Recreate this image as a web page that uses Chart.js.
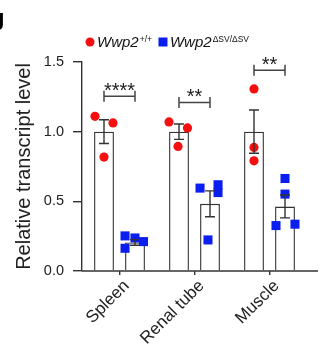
<!DOCTYPE html>
<html>
<head>
<meta charset="utf-8">
<script src="https://cdn.jsdelivr.net/npm/chart.js@4.4.0/dist/chart.umd.min.js"></script>
<style>
  body { margin: 0; background: #fff; }
  canvas { display: block; }
</style>
</head>
<body>
<canvas id="chart" width="327" height="353"></canvas>
<script>
// tissues and genotypes
const tissues = ['Spleen', 'Renal tube', 'Muscle'];
const genotypeBase = ['Wwp2', 'Wwp2'];
const genotypeSup = ['+/+', '\u0394SV/\u0394SV'];

// bar heights (mean) and SEM
const wtMean = [1.0, 1.0, 1.0];
const wtSem = [0.085, 0.055, 0.155];
const koMean = [0.205, 0.482, 0.463];
const koSem = [0.02, 0.093, 0.082];

// individual animals
const wtPoints = [
    [1.11, 1.063, 0.818],
    [1.07, 1.027, 0.894],
    [1.307, 0.887, 0.791]
];
const koPoints = [
    [0.252, 0.237, 0.211, 0.163],
    [0.595, 0.619, 0.563, 0.223],
    [0.664, 0.552, 0.326, 0.336]
];

// significance brackets
const sigLevel = [1.254, 1.21, 1.44];
const sigStars = ['****', '**', '**'];

const yTicks = [0, 0.5, 1.0, 1.5];

// horizontal spread of the dots inside each bar (fraction of a category)
const wtJitter = [[-0.12, 0.12, 0], [-0.133, 0.113, -0.013], [0, 0, 0]];
const koJitter = [[-0.133, 0, 0.113, -0.133], [-0.133, 0.107, 0.107, -0.027], [0, 0, -0.12, 0.133]];

// each bar sits this far (in categories) left/right of the tissue tick
const barShift = 0.2067;

const ink = '#333';
const red = '#f50f0f';
const blue = '#0a1ef0';
const font = '"Liberation Sans", Arial, sans-serif';

const bars = (means, side) => means.map((v, i) => ({ x: i + side * barShift, y: v }));

function dots(points, jitter, side) {
    const out = [];
    points.forEach((vals, i) => {
        vals.forEach((v, j) => {
            out.push({ x: i + side * barShift + jitter[i][j], y: v });
        });
    });
    return out;
}

// error bars, brackets, legend, axis line
const extras = {
    id: 'extras',
    afterDatasetsDraw(chart) {
        const ctx = chart.ctx;
        const y = chart.scales.y;
        const area = chart.chartArea;
        const barsWt = chart.getDatasetMeta(0).data;
        const barsKo = chart.getDatasetMeta(1).data;

        ctx.save();
        ctx.strokeStyle = ink;
        ctx.lineWidth = 1.4;

        // x axis line runs a bit past the last group
        ctx.beginPath();
        ctx.moveTo(area.left, area.bottom);
        ctx.lineTo(area.right + 11, area.bottom);
        ctx.stroke();

        const errBar = (x, mean, sem) => {
            const top = y.getPixelForValue(mean + sem);
            const bot = y.getPixelForValue(mean - sem);
            ctx.beginPath();
            ctx.moveTo(x, top);
            ctx.lineTo(x, bot);
            ctx.moveTo(x - 5, top);
            ctx.lineTo(x + 5, top);
            ctx.moveTo(x - 5, bot);
            ctx.lineTo(x + 5, bot);
            ctx.stroke();
        };
        tissues.forEach((t, i) => {
            errBar(barsWt[i].x, wtMean[i], wtSem[i]);
            errBar(barsKo[i].x, koMean[i], koSem[i]);
        });

        // brackets with stars
        ctx.strokeStyle = '#444';
        ctx.lineWidth = 1.5;
        ctx.fillStyle = '#222';
        ctx.font = '20px ' + font;
        ctx.textAlign = 'center';
        ctx.textBaseline = 'alphabetic';
        tissues.forEach((t, i) => {
            const x1 = barsWt[i].x;
            const x2 = barsKo[i].x;
            const py = y.getPixelForValue(sigLevel[i]);
            ctx.beginPath();
            ctx.moveTo(x1, py);
            ctx.lineTo(x2, py);
            ctx.moveTo(x1, py - 5.5);
            ctx.lineTo(x1, py + 5.5);
            ctx.moveTo(x2, py - 5.5);
            ctx.lineTo(x2, py + 5.5);
            ctx.stroke();
            ctx.fillText(sigStars[i], (x1 + x2) / 2, py + 0.5);
        });

        // legend
        const ly = 42;
        let lx = 90;
        ctx.textAlign = 'left';
        for (let k = 0; k < 2; k++) {
            ctx.fillStyle = k === 0 ? red : blue;
            ctx.beginPath();
            if (k === 0) {
                ctx.arc(lx, ly, 4.5, 0, Math.PI * 2);
            } else {
                ctx.rect(lx - 4.5, ly - 4.5, 9, 9);
            }
            ctx.fill();
            ctx.fillStyle = '#111';
            ctx.font = 'italic 15px ' + font;
            const tx = lx + 7;
            ctx.fillText(genotypeBase[k], tx, ly + 5);
            const w = ctx.measureText(genotypeBase[k]).width;
            ctx.font = '8.5px ' + font;
            ctx.fillText(genotypeSup[k], tx + w + 1, ly - 0.5);
            const ws = ctx.measureText(genotypeSup[k]).width;
            lx = tx + w + 1 + ws + 11;
        }

        // panel letter
        ctx.fillStyle = '#000';
        ctx.font = 'bold 22px ' + font;
        ctx.textAlign = 'right';
        ctx.fillText('g', 4.5, 24.5);
        ctx.restore();
    }
};

new Chart(document.getElementById('chart'), {
    type: 'bar',
    data: {
        datasets: [
            {
                data: bars(wtMean, -1),
                grouped: false,
                backgroundColor: '#fff',
                borderColor: ink,
                borderWidth: 1.4,
                barPercentage: 0.8,
                maxBarThickness: 25,
                order: 1
            },
            {
                data: bars(koMean, 1),
                grouped: false,
                backgroundColor: '#fff',
                borderColor: ink,
                borderWidth: 1.4,
                barPercentage: 0.8,
                maxBarThickness: 25,
                order: 1
            },
            {
                type: 'scatter',
                data: dots(wtPoints, wtJitter, -1),
                pointStyle: 'circle',
                pointRadius: 4.6,
                pointBorderWidth: 0,
                backgroundColor: red,
                order: 0
            },
            {
                type: 'scatter',
                data: dots(koPoints, koJitter, 1),
                pointStyle: 'rect',
                pointRadius: 6.4,
                pointBorderWidth: 0,
                backgroundColor: blue,
                order: 0
            }
        ]
    },
    options: {
        responsive: false,
        animation: false,
        layout: { padding: { top: 62, right: 20, left: 0, bottom: 0 } },
        plugins: {
            legend: { display: false },
            tooltip: { enabled: false }
        },
        scales: {
            x: {
                type: 'linear',
                min: -0.5,
                max: 2.5,
                offset: false,
                afterBuildTicks(scale) { scale.ticks = tissues.map((t, i) => ({ value: i })); },
                grid: { display: true, drawOnChartArea: false, offset: false, tickLength: 4, color: ink, lineWidth: 1.4 },
                border: { display: false },
                ticks: {
                    color: '#222',
                    font: { family: font, size: 17 },
                    minRotation: 45,
                    maxRotation: 45,
                    padding: 1,
                    labelOffset: 7,
                    callback: v => tissues[v]
                },
                afterFit(scale) { scale.height = 82; }
            },
            y: {
                min: 0,
                max: 1.5,
                afterBuildTicks(scale) { scale.ticks = yTicks.map(v => ({ value: v })); },
                grid: { display: true, drawOnChartArea: false, tickLength: 9, color: ink, lineWidth: 1.4 },
                border: { display: true, color: ink, width: 1.4 },
                ticks: {
                    color: '#222',
                    padding: 9,
                    font: { family: font, size: 14.5 },
                    callback: v => v.toFixed(1)
                },
                title: {
                    display: true,
                    text: 'Relative transcript level',
                    color: '#222',
                    font: { family: font, size: 20 },
                    padding: { top: 12, bottom: 0 }
                },
                afterFit(scale) { scale.width = 82; }
            }
        }
    },
    plugins: [extras]
});
</script>
</body>
</html>
